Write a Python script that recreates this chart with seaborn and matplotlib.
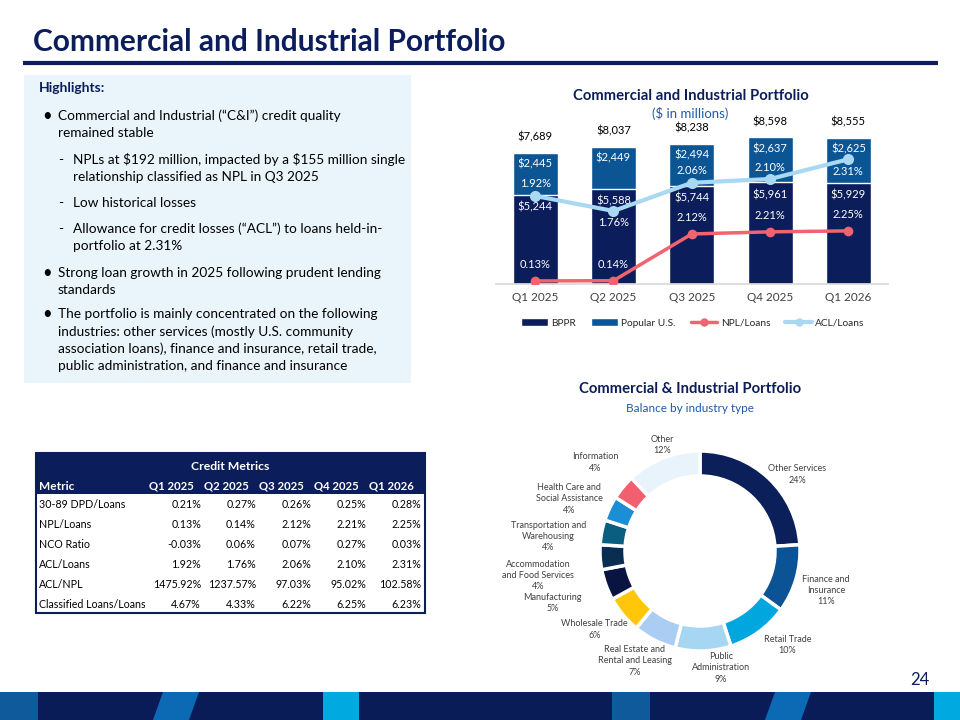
import numpy as np
import seaborn as sns
import matplotlib.pyplot as plt
from matplotlib.patches import Rectangle, Polygon, Patch
from matplotlib.lines import Line2D

sns.set_theme(style='white')
plt.rcParams['font.family'] = ['Lato', 'DejaVu Sans']
plt.rcParams['text.parse_math'] = False

NAVY = '#0B1D5A'
US_BLUE = '#0C5595'
NPL_RED = '#F0636F'
ACL_BLUE = '#A9D8F2'
TXT_BLUE = '#1F5AA8'
GREY_TXT = '#404040'

# Loan balances by quarter ($ in millions)
quarters = ['Q1 2025', 'Q2 2025', 'Q3 2025', 'Q4 2025', 'Q1 2026']
bppr = [5244, 5588, 5744, 5961, 5929]
popular_us = [2445, 2449, 2494, 2637, 2625]
totals = [7689, 8037, 8238, 8598, 8555]
npl_loans = [0.13, 0.14, 2.12, 2.21, 2.25]
acl_loans = [1.92, 1.76, 2.06, 2.10, 2.31]

# Balance by industry type
industries = ['Other Services', 'Finance and\nInsurance', 'Retail Trade',
              'Public\nAdministration', 'Real Estate and\nRental and Leasing',
              'Wholesale Trade', 'Manufacturing', 'Accommodation\nand Food Services',
              'Transportation and\nWarehousing', 'Health Care and\nSocial Assistance',
              'Information', 'Other']
industry_share = [24, 11, 10, 9, 7, 6, 5, 4, 4, 4, 4, 12]
industry_colors = ['#0B1F5B', '#0B5394', '#00A6DE', '#A6D6F2', '#ABCDF3', '#FFC60A',
                   '#0A1440', '#0A2D52', '#0A5F80', '#1B8FD6', '#F25F6E', '#E8F3FB']

# Credit metrics table
metric_names = ['30-89 DPD/Loans', 'NPL/Loans', 'NCO Ratio', 'ACL/Loans', 'ACL/NPL',
                'Classified Loans/Loans']
metric_q1_2025 = [0.21, 0.13, -0.03, 1.92, 1475.92, 4.67]
metric_q2_2025 = [0.27, 0.14, 0.06, 1.76, 1237.57, 4.33]
metric_q3_2025 = [0.26, 2.12, 0.07, 2.06, 97.03, 6.22]
metric_q4_2025 = [0.25, 2.21, 0.27, 2.10, 95.02, 6.25]
metric_q1_2026 = [0.28, 2.25, 0.03, 2.31, 102.58, 6.23]

highlights = [
    ('•', ['Commercial and Industrial (“C&I”) credit quality', 'remained stable']),
    ('-', ['NPLs at $192 million, impacted by a $155 million single',
           'relationship classified as NPL in Q3 2025']),
    ('-', ['Low historical losses']),
    ('-', ['Allowance for credit losses (“ACL”) to loans held-in-', 'portfolio at 2.31%']),
    ('•', ['Strong loan growth in 2025 following prudent lending', 'standards']),
    ('•', ['The portfolio is mainly concentrated on the following',
           'industries: other services (mostly U.S. community',
           'association loans), finance and insurance, retail trade,',
           'public administration, and finance and insurance']),
]

fig = plt.figure(figsize=(9.6, 7.2), dpi=100)

# slide background in pixel coordinates
bg = fig.add_axes([0, 0, 1, 1])
bg.set_xlim(0, 960)
bg.set_ylim(720, 0)
bg.axis('off')

bg.text(33, 42, 'Commercial and Industrial Portfolio', fontsize=21.5, weight='bold',
        color=NAVY, va='center')
bg.plot([23, 938], [63, 63], color=NAVY, lw=3, solid_capstyle='butt')

# highlights box
bg.add_patch(Rectangle((24, 75), 387, 308, fc='#EAF5FB', ec='none'))
bg.text(39, 88, 'Highlights:', fontsize=10, weight='bold', color=NAVY, va='center')
para_y = [116, 160, 203, 229, 273, 314]
for (mark, lines), y0 in zip(highlights, para_y):
    if mark == '•':
        bg.text(42, y0, mark, fontsize=12, color='black', va='center')
        xt = 58
    else:
        bg.text(58, y0, mark, fontsize=10, color='black', va='center')
        xt = 73
    for i, line in enumerate(lines):
        bg.text(xt, y0 + 17.3 * i, line, fontsize=9.8, color='black', va='center')

# credit metrics table
tl, tr, tt, tb = 36, 425, 453, 613
bg.add_patch(Rectangle((tl, tt), tr - tl, 41, fc=NAVY, ec='none'))
bg.add_patch(Rectangle((tl, tt), tr - tl, tb - tt, fc='none', ec=NAVY, lw=1.5))
bg.text((tl + tr) / 2, 466, 'Credit Metrics', fontsize=8.8, weight='bold', color='white',
        ha='center', va='center')
bg.text(39, 486, 'Metric', fontsize=8.6, weight='bold', color='white', va='center')
col_right = [201, 256, 311, 366, 421]
cols = [metric_q1_2025, metric_q2_2025, metric_q3_2025, metric_q4_2025, metric_q1_2026]
for q, xr, vals in zip(quarters, col_right, cols):
    bg.text(xr - 7, 486, q, fontsize=8.2, weight='bold', color='white', ha='right', va='center')
    for i, v in enumerate(vals):
        bg.text(xr, 504 + 20 * i, f'{v:.2f}%', fontsize=7.7, color='black',
                ha='right', va='center')
for i, name in enumerate(metric_names):
    bg.text(39, 504 + 20 * i, name, fontsize=7.7, color='black', va='center')

# chart titles
bg.text(691, 96, 'Commercial and Industrial Portfolio', fontsize=10.7, weight='bold',
        color=NAVY, ha='center', va='center')
bg.text(690, 114, '($ in millions)', fontsize=9.5, color=TXT_BLUE, ha='center', va='center')
bg.text(690, 389, 'Commercial & Industrial Portfolio', fontsize=10.7, weight='bold',
        color=NAVY, ha='center', va='center')
bg.text(690, 408, 'Balance by industry type', fontsize=8.5, color=TXT_BLUE,
        ha='center', va='center')

# footer band
bg.add_patch(Rectangle((0, 692), 960, 28, fc='#0A1C58', ec='none'))
bg.add_patch(Rectangle((0, 692), 38, 28, fc='#0E5A9A', ec='none'))
bg.add_patch(Polygon([(163, 692), (199, 692), (189, 720), (153, 720)], fc='#0C69B4', ec='none'))
bg.add_patch(Rectangle((323, 692), 36, 28, fc='#00A9E0', ec='none'))
bg.add_patch(Rectangle((612, 692), 38, 28, fc='#0E5A9A', ec='none'))
bg.add_patch(Polygon([(775, 692), (811, 692), (801, 720), (765, 720)], fc='#0C69B4', ec='none'))
bg.add_patch(Rectangle((934, 692), 26, 28, fc='#00A9E0', ec='none'))
bg.text(920, 680, '24', fontsize=12, color=NAVY, ha='center', va='center')

# stacked bar chart
ax = fig.add_axes([496 / 960, (720 - 284) / 720, 391.5 / 960, 170.4 / 720])
ax.patch.set_alpha(0)
sns.barplot(x=quarters, y=totals, color=US_BLUE, width=0.575, saturation=1,
            errorbar=None, ax=ax)
sns.barplot(x=quarters, y=bppr, color=NAVY, width=0.575, saturation=1,
            errorbar=None, ax=ax)
ax.set_ylim(0, 10000)
ax.set_yticks([])
ax.set_xlabel('')
ax.set_ylabel('')
for s in ['top', 'left', 'right']:
    ax.spines[s].set_visible(False)
ax.spines['bottom'].set_color('#D9D9D9')
ax.tick_params(axis='x', length=0, labelsize=8.5, colors=GREY_TXT, pad=6)

xpos = np.arange(len(quarters))
for i in xpos:
    ax.annotate(f'${totals[i]:,}', (i, totals[i]), xytext=(0, 16), textcoords='offset pixels',
                ha='center', va='center', fontsize=8, color='black')
    ax.annotate(f'${popular_us[i]:,}', (i, totals[i]), xytext=(0, -11),
                textcoords='offset pixels', ha='center', va='center', fontsize=8, color='white')
    ax.annotate(f'${bppr[i]:,}', (i, bppr[i]), xytext=(0, -12),
                textcoords='offset pixels', ha='center', va='center', fontsize=8, color='white')

ax_npl = ax.twinx()
ax_acl = ax.twinx()
sns.lineplot(x=xpos, y=npl_loans, ax=ax_npl, color=NPL_RED, lw=2.5, marker='o',
             markersize=7, markeredgewidth=0)
sns.lineplot(x=xpos, y=acl_loans, ax=ax_acl, color=ACL_BLUE, lw=3, marker='o',
             markersize=8, markeredgewidth=0)
ax_npl.set_ylim(0, 7.22)
ax_acl.set_ylim(0.983, 2.796)
for a in (ax_npl, ax_acl):
    a.axis('off')
ax.set_xlim(-0.5, 4.5)
acl_label_dy = [12, -12, 12, 12, -12]
for i in xpos:
    ax_npl.annotate(f'{npl_loans[i]:.2f}%', (i, npl_loans[i]), xytext=(0, 16),
                    textcoords='offset pixels', ha='center', va='center', fontsize=8,
                    color='white')
    ax_acl.annotate(f'{acl_loans[i]:.2f}%', (i, acl_loans[i]), xytext=(0, acl_label_dy[i]),
                    textcoords='offset pixels', ha='center', va='center', fontsize=8,
                    color='white')

handles = [Patch(fc=NAVY), Patch(fc=US_BLUE),
           Line2D([], [], color=NPL_RED, lw=2.5, marker='o', markersize=5),
           Line2D([], [], color=ACL_BLUE, lw=3, marker='o', markersize=5)]
fig.legend(handles, ['BPPR', 'Popular U.S.', 'NPL/Loans', 'ACL/Loans'], loc='center',
           bbox_to_anchor=(693 / 960, 1 - 323 / 720), ncol=4, frameon=False, fontsize=7.3,
           handlelength=2.6, handleheight=0.7, columnspacing=1.5, handletextpad=0.35)

# donut chart
pax = fig.add_axes([600 / 960, (720 - 651) / 720, 200 / 960, 200 / 720])
wedges, _ = pax.pie(industry_share, colors=industry_colors, startangle=90,
                    counterclock=False, radius=1,
                    wedgeprops=dict(width=0.25, edgecolor='white', linewidth=2.5))
pax.set_xlim(-1, 1)
pax.set_ylim(-1, 1)
pax.set_aspect('equal')
# small hand nudges (pixels, +x right, +y down) to follow the slide's label placement
label_nudge = [(-14, 11), (-13, 6), (-7, -3), (17, -3), (-11, 3), (20, 2),
               (-5, 11), (-6, 17), (4, 8), (11, -1), (11, -12), (6, 6)]
for w, name, share, (nx, ny) in zip(wedges, industries, industry_share, label_nudge):
    ang = np.deg2rad((w.theta1 + w.theta2) / 2)
    cx, cy = np.cos(ang), np.sin(ang)
    r = 1.2
    ha = 'center' if abs(cx) < 0.5 else ('left' if cx > 0 else 'right')
    pax.text(r * cx + nx / 100, r * cy - ny / 100, f'{name}\n{share}%', ha=ha, va='center',
             multialignment='center', fontsize=6.5, color=GREY_TXT, linespacing=1.3)

fig.savefig('out.png', dpi=100)
